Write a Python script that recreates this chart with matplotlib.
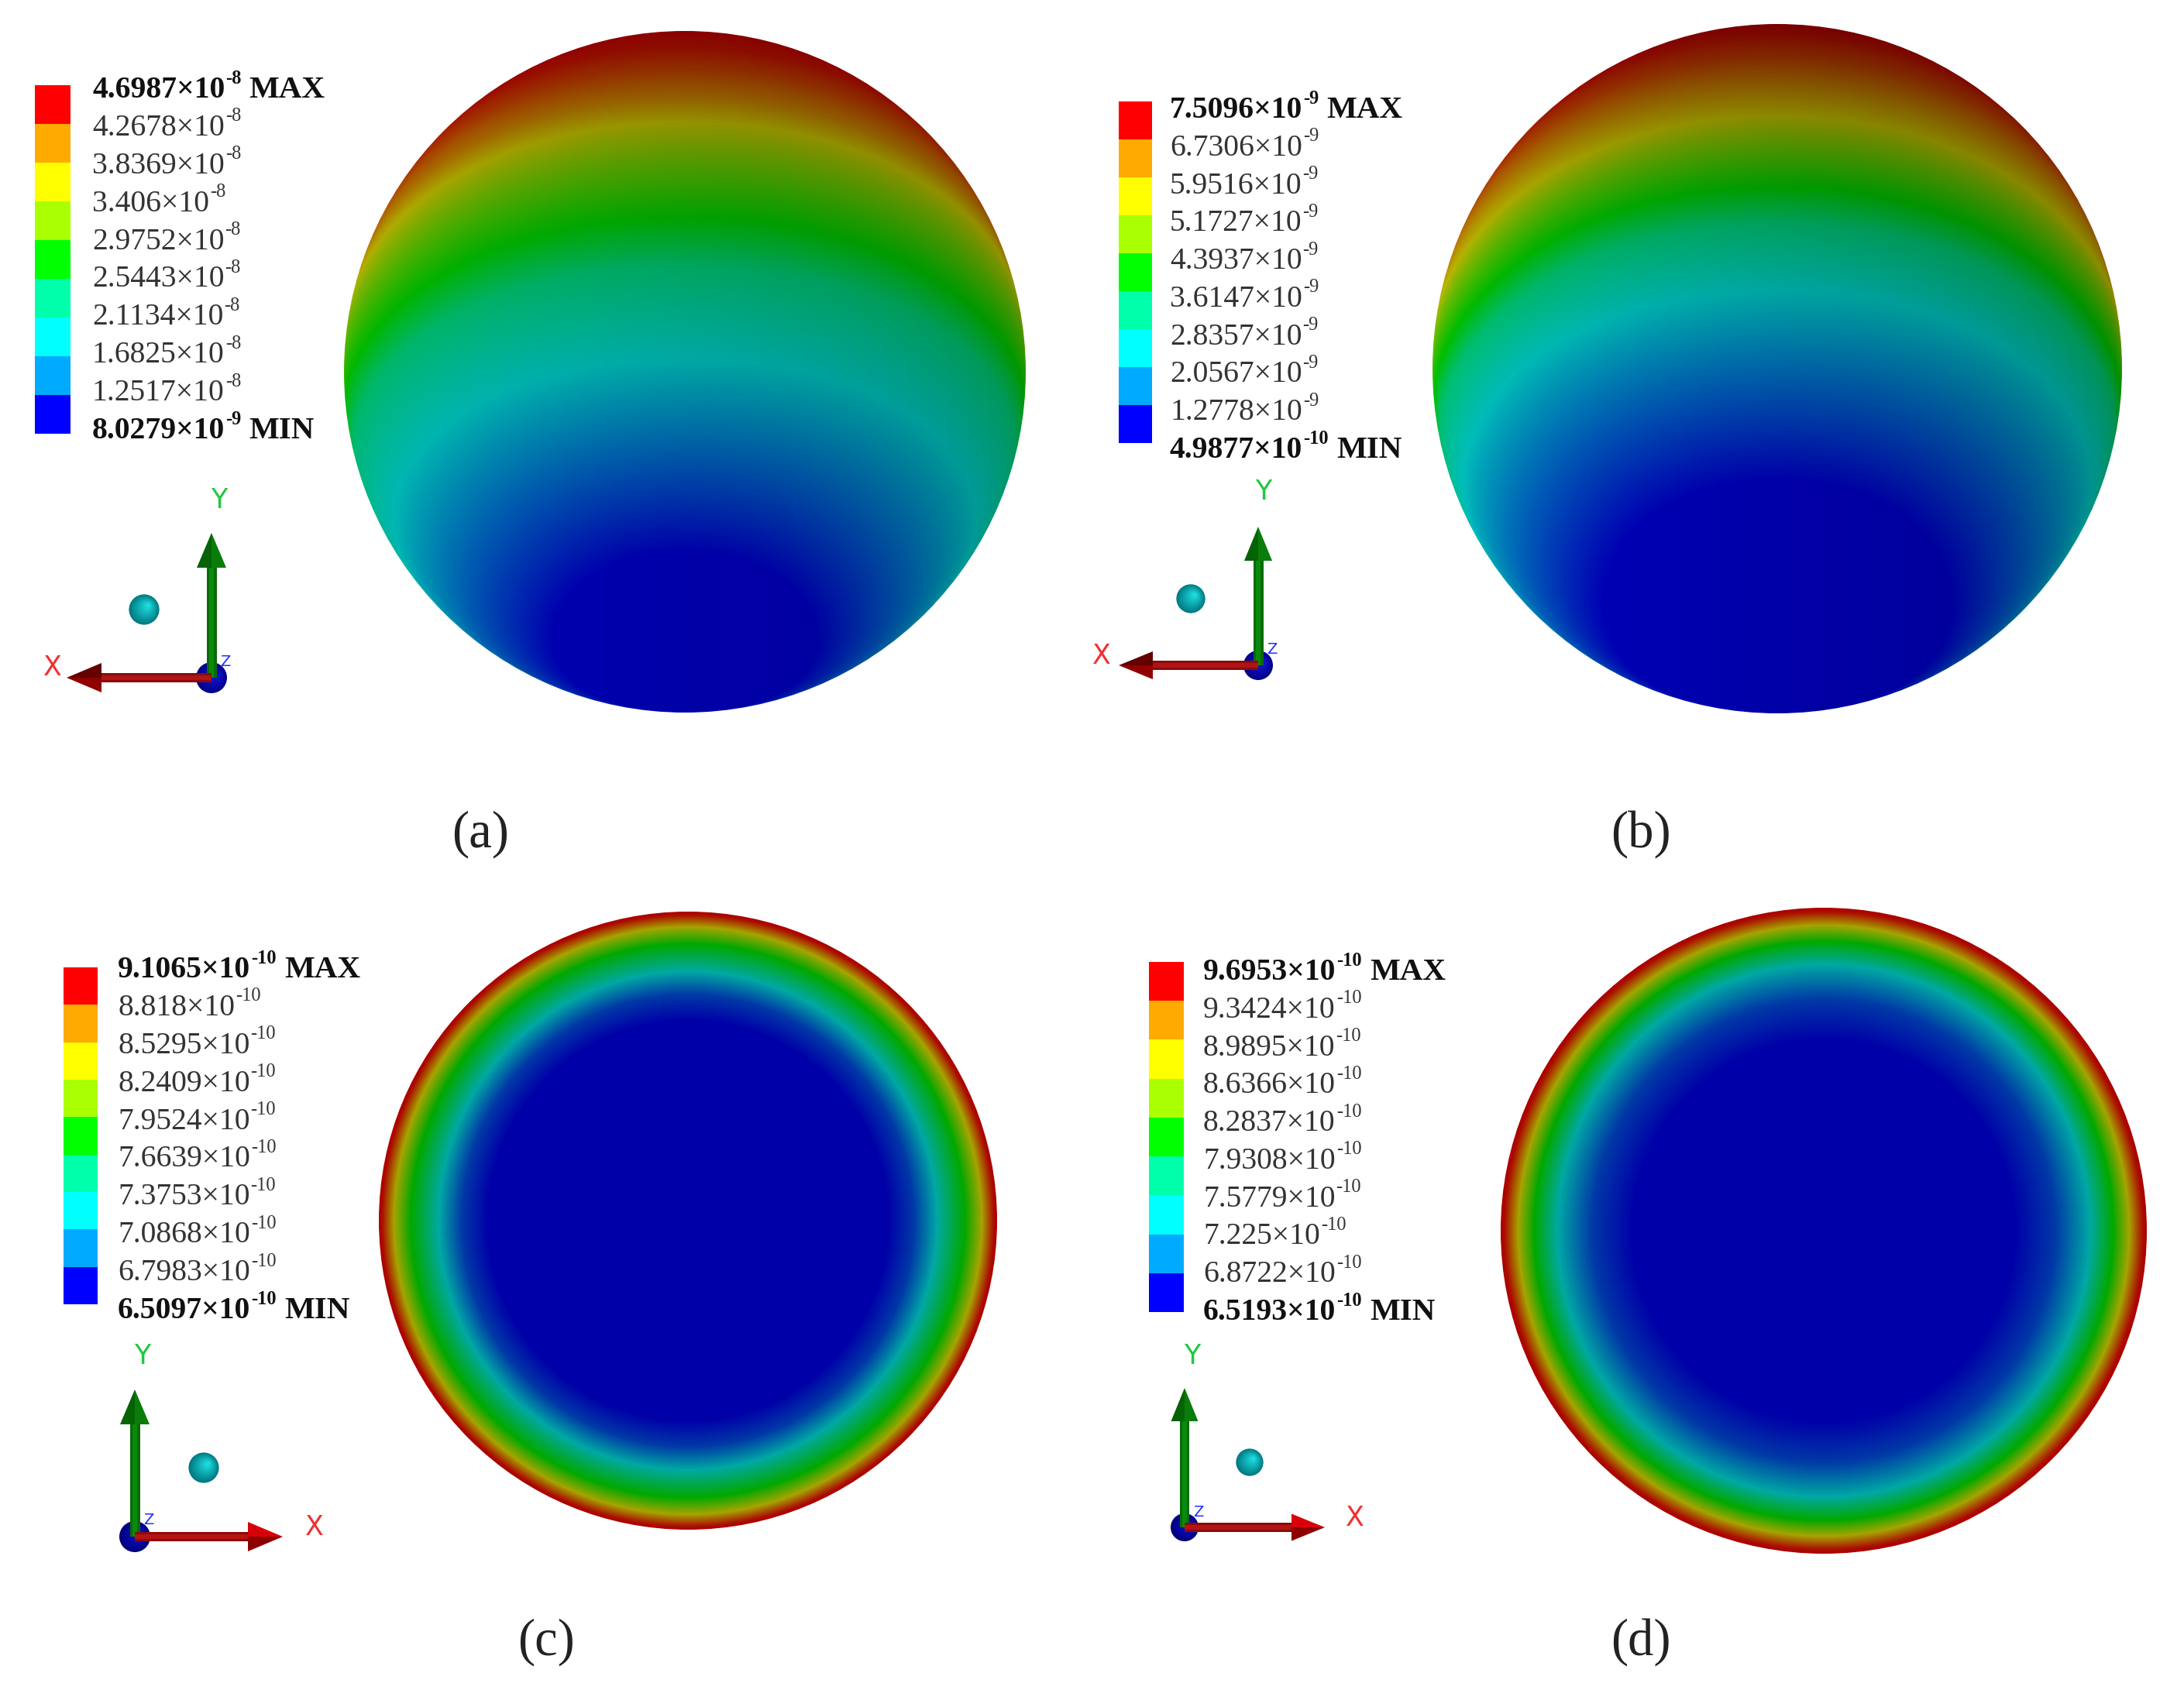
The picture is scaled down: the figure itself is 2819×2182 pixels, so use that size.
import numpy as np
import matplotlib
matplotlib.use("Agg")
import matplotlib.pyplot as plt
from matplotlib.colors import LinearSegmentedColormap
from matplotlib.patches import Circle, Rectangle, Polygon

plt.rcParams['font.family'] = ['Liberation Serif', 'DejaVu Serif']

# ---------------- data ----------------
labels_a = ["4.6987×10|-8", "4.2678×10|-8", "3.8369×10|-8", "3.406×10|-8", "2.9752×10|-8",
            "2.5443×10|-8", "2.1134×10|-8", "1.6825×10|-8", "1.2517×10|-8", "8.0279×10|-9"]
labels_b = ["7.5096×10|-9", "6.7306×10|-9", "5.9516×10|-9", "5.1727×10|-9", "4.3937×10|-9",
            "3.6147×10|-9", "2.8357×10|-9", "2.0567×10|-9", "1.2778×10|-9", "4.9877×10|-10"]
labels_c = ["9.1065×10|-10", "8.818×10|-10", "8.5295×10|-10", "8.2409×10|-10", "7.9524×10|-10",
            "7.6639×10|-10", "7.3753×10|-10", "7.0868×10|-10", "6.7983×10|-10", "6.5097×10|-10"]
labels_d = ["9.6953×10|-10", "9.3424×10|-10", "8.9895×10|-10", "8.6366×10|-10", "8.2837×10|-10",
            "7.9308×10|-10", "7.5779×10|-10", "7.225×10|-10", "6.8722×10|-10", "6.5193×10|-10"]
legend_colors = ["#ff0000", "#ffaa00", "#ffff00", "#aaff00", "#00ff00",
                 "#00ffaa", "#00ffff", "#00aaff", "#0000ff"]

# surface colour scale (level -> shaded colour)
surface_levels = [0.0, 0.35, 0.5, 0.7, 1.0]
surface_colors = ["#0000a8", "#00a8a4", "#00a800", "#a6a400", "#ac0000"]

# top row: level read against angle from the low pole on the sphere (deg)
angle_a = [0, 28, 62, 70, 78, 87, 108, 115, 125, 135, 150]
level_a = [0, 0, 0.35, 0.38, 0.41, 0.5, 0.7, 0.8, 0.9, 0.97, 1.0]
angle_b = [0, 36, 68, 74, 80, 87, 103, 112, 122, 133, 145]
level_b = [0, 0, 0.35, 0.38, 0.41, 0.5, 0.7, 0.8, 0.9, 0.97, 1.0]

# bottom row: level read against radius fraction
radius_c = [0.0, 0.647, 0.732, 0.807, 0.897, 0.952, 0.99, 1.0]
level_c = [0, 0, 0.12, 0.35, 0.5, 0.7, 0.97, 1.0]
radius_d = [0.0, 0.59, 0.717, 0.825, 0.897, 0.947, 0.988, 1.0]
level_d = [0, 0, 0.12, 0.35, 0.5, 0.7, 0.97, 1.0]

W, H = 2819, 2182
fig = plt.figure(figsize=(W / 100, H / 100), dpi=100, facecolor="white")
ax = fig.add_axes([0, 0, 1, 1])
ax.axis("off")

cmap = LinearSegmentedColormap.from_list(
    "surf", list(zip(surface_levels, surface_colors)), N=512)


def disc(cx, cy, R, field, shade_k=0.0, shade_top=0.0):
    n = int(2 * R)
    xs = np.linspace(-1, 1, n)
    ys = np.linspace(1, -1, n)
    X, Y = np.meshgrid(xs, ys)
    rgba = cmap(field(X, Y))
    shade = (1 - shade_k * X) * (1 - shade_top * np.clip(Y, 0, 1) ** 2)
    rgba[..., :3] = np.clip(rgba[..., :3] * shade[..., None], 0, 1)
    im = ax.imshow(rgba, extent=(cx - R, cx + R, cy + R, cy - R),
                   interpolation="bilinear", zorder=2)
    im.set_clip_path(Circle((cx, cy), R, transform=ax.transData))


def pole_field(angles, levels, tilt, warp, limb):
    t = np.radians(tilt)
    def f(X, Y):
        r2 = np.clip(X ** 2 + Y ** 2, 0, 1)
        Z = np.sqrt(1 - r2)
        Xw = X * (1 + warp * np.clip(-Y, 0, 1))
        norm = np.sqrt(Xw ** 2 + Y ** 2 + Z ** 2) + 1e-9
        d = np.clip((-Y * np.sin(t) + Z * np.cos(t)) / norm, -1, 1)
        ramp = np.clip(Y + 0.3, 0, 0.6) * np.clip(1.6 - Y, 0, 1)
        ang = np.degrees(np.arccos(d)) + limb * r2 ** 3 * ramp
        return np.interp(ang, angles, levels)
    return f


def radial_field(radii, levels):
    def f(X, Y):
        return np.interp(np.sqrt(X ** 2 + Y ** 2), radii, levels)
    return f


disc(884, 480, 440, pole_field(angle_a, level_a, 60, 0.35, 10), 0.10, 0.2)
disc(2294, 476, 445, pole_field(angle_b, level_b, 55, 0.35, 10), 0.14, 0.3)
disc(888, 1576, 399, radial_field(radius_c, level_c))
disc(2354, 1589, 417, radial_field(radius_d, level_d))

ax.set_xlim(0, W)
ax.set_ylim(H, 0)
ax.set_aspect("auto")

FS = 28.5
renderer = fig.canvas.get_renderer()


def label(x, y, s, bold=False, tail=None):
    base, sup = s.split("|")
    w = "bold" if bold else "normal"
    col = "#111111" if bold else "#333333"
    t = ax.text(x, y, base, fontsize=FS, fontweight=w, color=col, va="center_baseline", ha="left", zorder=5)
    e = t.get_window_extent(renderer)
    x2 = e.x1 + 1
    t2 = ax.text(x2, y - 13, sup, fontsize=FS * 0.62, fontweight=w, color=col, va="center_baseline", ha="left", zorder=5)
    if tail:
        x3 = t2.get_window_extent(renderer).x1 + 10
        ax.text(x3, y, tail, fontsize=FS * 1.04, fontweight="bold", color=col, va="center_baseline", ha="left", zorder=5)


def legend(bx0, bx1, by0, by1, tx, ty0, ty1, labels):
    h = (by1 - by0) / len(legend_colors)
    for i, c in enumerate(legend_colors):
        ax.add_patch(Rectangle((bx0, by0 + i * h), bx1 - bx0, h, fc=c, ec="none", zorder=3))
    ys = np.linspace(ty0, ty1, len(labels))
    for i, (s, y) in enumerate(zip(labels, ys)):
        tail = "MAX" if i == 0 else ("MIN" if i == len(labels) - 1 else None)
        label(tx, y, s, bold=tail is not None, tail=tail)


legend(45, 91, 110, 560, 119, 112, 552, labels_a)
legend(1444, 1487, 131, 572, 1510, 138, 577, labels_b)
legend(82, 126, 1249, 1684, 152, 1248, 1688, labels_c)
legend(1483, 1528, 1242, 1694, 1553, 1251, 1690, labels_d)


def ball(x, y, r, dark, light, dx=0.25, dy=-0.25):
    dark = np.array(matplotlib.colors.to_rgb(dark))
    light = np.array(matplotlib.colors.to_rgb(light))
    for f in np.linspace(1, 0.08, 14):
        c = dark + (light - dark) * (1 - f)
        ax.add_patch(Circle((x + (1 - f) * dx * r, y + (1 - f) * dy * r), r * f, fc=c, ec="none", zorder=6))


def arrow(x0, y0, x1, y1, col_edge, col_mid, head_a, head_b, sw, hw, hl):
    d = np.array([x1 - x0, y1 - y0], float)
    L = np.hypot(*d)
    u = d / L
    n = np.array([-u[1], u[0]])
    p0 = np.array([x0, y0], float)
    p1 = np.array([x1, y1], float)
    b = p1 - u * hl
    ax.add_patch(Polygon([p0 + n * sw / 2, b + n * sw / 2, b - n * sw / 2, p0 - n * sw / 2],
                         fc=col_edge, ec="none", zorder=7))
    ax.add_patch(Polygon([p0 + n * sw / 4, b + n * sw / 4, b - n * sw / 4, p0 - n * sw / 4],
                         fc=col_mid, ec="none", zorder=7))
    ax.add_patch(Polygon([b + n * hw, p1, b], fc=head_a, ec="none", zorder=7))
    ax.add_patch(Polygon([b - n * hw, p1, b], fc=head_b, ec="none", zorder=7))


def triad(ox, oy, xt, yt, ylab, xlab, bl, xcols, sw, hw, hl, r, front_ball):
    if not front_ball:
        ball(ox, oy, r, "#00008a", "#1a1ae0")
    arrow(ox, oy, ox, yt, "#0a6a0a", "#0a8a0a", "#0a7c0a", "#056205", sw, hw, hl)
    arrow(ox, oy, xt, oy, xcols[0], xcols[1], xcols[2], xcols[3], sw * 0.92, hw, hl)
    if front_ball:
        ball(ox, oy, r, "#00007c", "#1010e6", dx=0.35, dy=-0.2)
    ax.text(ox + 11, oy - r - 1, "Z", fontsize=14, color="#2030ff",
            ha="left", va="center", zorder=8, family="DejaVu Sans")
    ax.text(ylab[0], ylab[1], "Y", fontsize=25, color="#20c840", ha="center", va="center",
            zorder=8, family="DejaVu Sans")
    ax.text(xlab[0], xlab[1], "X", fontsize=25, color="#f03030", ha="center", va="center",
            zorder=8, family="DejaVu Sans")
    ball(bl[0], bl[1], r * 0.98, "#007a84", "#20e8e8", dx=0.3, dy=-0.3)


left_x = ("#8c0a0a", "#b01414", "#640000", "#900000")
right_x = ("#8c0a0a", "#b41414", "#8c0000", "#d80008")
triad(273, 875, 86, 688, (283, 646), (68, 862), (186, 787), left_x, 13, 19, 45, 20, False)
triad(1624, 859, 1444, 680, (1631, 635), (1422, 847), (1537, 773), left_x, 13, 18, 44, 19, False)
triad(174, 1984, 365, 1794, (184, 1751), (406, 1972), (263, 1895), right_x, 13, 19, 45, 20, True)
triad(1529, 1972, 1710, 1792, (1539, 1751), (1749, 1960), (1613, 1888), right_x, 12, 17.5, 43, 18, True)

for s, x, y in [("(a)", 620, 1077), ("(b)", 2118, 1077), ("(c)", 705, 2120), ("(d)", 2118, 2120)]:
    ax.text(x, y, s, fontsize=48, color="#222222", ha="center", va="center", zorder=5)

fig.savefig("out.png", dpi=100, facecolor="white")
